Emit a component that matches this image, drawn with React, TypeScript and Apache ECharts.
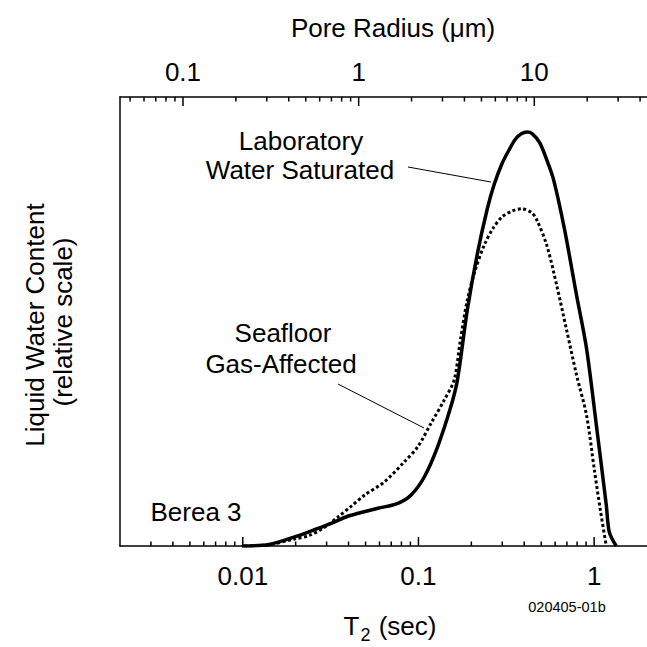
import React, { useEffect, useRef } from "react";
import * as echarts from "echarts";

// ---- data (T2 in seconds, liquid water content in relative units 0..100) ----
const solidT2 = [0.0099, 0.0141, 0.0199, 0.0253, 0.0319, 0.0399, 0.0454, 0.0589, 0.0764, 0.0908, 0.1081, 0.1285, 0.1528, 0.1667, 0.1898, 0.2162, 0.2462, 0.2697, 0.2992, 0.3321, 0.356, 0.385, 0.415, 0.445, 0.4906, 0.5375, 0.5886, 0.6795, 0.794, 0.9045, 1.03, 1.173, 1.22, 1.336];
const solidY = [0, 0.33, 2.07, 3.56, 5.06, 6.68, 7.28, 8.4, 9.5, 11.36, 15.43, 22.1, 31.0, 37.0, 52.6, 65.0, 75.0, 80.5, 85.2, 88.6, 90.6, 91.8, 92.2, 91.8, 89.8, 86.0, 81.5, 70.4, 55.9, 44.1, 26.9, 9.1, 3.1, 0];

const dottedT2 = [0.0102, 0.0141, 0.0199, 0.0237, 0.0288, 0.035, 0.0415, 0.0495, 0.0642, 0.0833, 0.0991, 0.1178, 0.1402, 0.1597, 0.1733, 0.1898, 0.2107, 0.2368, 0.2662, 0.2992, 0.3408, 0.3882, 0.442, 0.472, 0.5375, 0.612, 0.6974, 0.794, 0.9045, 1.0037, 1.085, 1.173];
const dottedY = [0, 0.3, 1.6, 2.3, 4.0, 6.53, 8.9, 11.36, 14.32, 18.8, 22.1, 27.3, 32.5, 37.0, 45.9, 54.8, 61.5, 67.0, 70.8, 73.3, 74.6, 75.1, 74.2, 72.6, 67.0, 58.1, 48.1, 38.1, 29.2, 16.9, 8.0, 0];

// bottom axis (T2, sec)
const t2Min = 0.002;
const t2Max = 2;
const bottomMajorTicks = [0.01, 0.1, 1];
const bottomMinorTicks = [0.003, 0.004, 0.005, 0.006, 0.007, 0.008, 0.009, 0.02, 0.03, 0.04, 0.05, 0.06, 0.07, 0.08, 0.09, 0.2, 0.3, 0.4, 0.5, 0.6, 0.7, 0.8, 0.9];
const bottomLabels = ["0.01", "0.1", "1"];

// top axis (pore radius, µm) = factor * T2
const radiusFactor = 21.9;
const topMajorTicks = [0.1, 1, 10];
const topMinorTicks = [0.05, 0.06, 0.07, 0.08, 0.09, 0.2, 0.3, 0.4, 0.5, 0.6, 0.7, 0.8, 0.9, 2, 3, 4, 5, 6, 7, 8, 9, 20, 30, 40];
const topLabels = ["0.1", "1", "10"];

const yMax = 100;
const FONT = "'Liberation Sans', Arial, Helvetica, sans-serif";
const FS = 26;

export default function App() {
  const ref = useRef<HTMLDivElement>(null);

  useEffect(() => {
    if (!ref.current) return;
    const chart = echarts.init(ref.current, undefined, { renderer: "svg" });

    const tickData = (major: number[], minor: number[]) => [
      ...major.map((v) => [v, 1]),
      ...minor.map((v) => [v, 0]),
    ];

    const tickSeries = (axisIndex: number, data: number[][], atTop: boolean) => ({
      type: "custom",
      xAxisIndex: axisIndex,
      yAxisIndex: 0,
      silent: true,
      clip: false,
      data,
      renderItem: (params: any, api: any) => {
        const v = api.value(0);
        const major = api.value(1);
        const p = api.coord([v, atTop ? yMax : 0]);
        const len = major ? 9 : 4.5;
        const dir = atTop ? 1 : -1;
        return {
          type: "line",
          shape: { x1: p[0], y1: p[1], x2: p[0], y2: p[1] + dir * len },
          style: { stroke: "#000", lineWidth: 1.5 },
        };
      },
    });

    const labelSeries = (axisIndex: number, values: number[], texts: string[], atTop: boolean) => ({
      type: "custom",
      xAxisIndex: axisIndex,
      yAxisIndex: 0,
      silent: true,
      clip: false,
      data: values.map((v) => [v, 0]),
      renderItem: (params: any, api: any) => {
        const v = api.value(0);
        const p = api.coord([v, atTop ? yMax : 0]);
        return {
          type: "text",
          x: p[0],
          y: atTop ? p[1] - 25 : p[1] + 30,
          style: {
            text: texts[params.dataIndex],
            fontSize: FS,
            fontFamily: FONT,
            fill: "#000",
            align: "center",
            verticalAlign: "middle",
          },
        };
      },
    });

    const txt = (text: string, x: number, y: number, size = FS, extra: any = {}) => ({
      type: "text",
      x,
      y,
      silent: true,
      style: {
        text,
        fontSize: size,
        fontFamily: FONT,
        fill: "#000",
        align: "center",
        verticalAlign: "middle",
        ...extra,
      },
    });

    chart.setOption({
      animation: false,
      backgroundColor: "#fff",
      grid: { left: 120, top: 97, width: 531, height: 449, containLabel: false },
      xAxis: [
        {
          type: "log",
          logBase: 10,
          min: t2Min,
          max: t2Max,
          position: "bottom",
          axisLine: { show: true, lineStyle: { color: "#000", width: 1.5 } },
          axisTick: { show: false },
          axisLabel: { show: false },
          splitLine: { show: false },
        },
        {
          type: "log",
          logBase: 10,
          min: t2Min * radiusFactor,
          max: t2Max * radiusFactor,
          position: "top",
          axisLine: { show: true, lineStyle: { color: "#000", width: 1.5 } },
          axisTick: { show: false },
          axisLabel: { show: false },
          splitLine: { show: false },
        },
      ],
      yAxis: {
        type: "value",
        min: 0,
        max: yMax,
        axisLine: { show: true, lineStyle: { color: "#000", width: 1.5 } },
        axisTick: { show: false },
        axisLabel: { show: false },
        splitLine: { show: false },
      },
      series: [
        {
          name: "Seafloor Gas-Affected",
          type: "line",
          xAxisIndex: 0,
          data: dottedT2.map((t, i) => [t, dottedY[i]]),
          showSymbol: false,
          smooth: 0.3,
          lineStyle: { color: "#000", width: 3, type: [3, 2.5] },
          z: 3,
        },
        {
          name: "Laboratory Water Saturated",
          type: "line",
          xAxisIndex: 0,
          data: solidT2.map((t, i) => [t, solidY[i]]),
          showSymbol: false,
          smooth: 0.3,
          lineStyle: { color: "#000", width: 3.5 },
          z: 2,
        },
        tickSeries(0, tickData(bottomMajorTicks, bottomMinorTicks), false),
        tickSeries(1, tickData(topMajorTicks, topMinorTicks), true),
        labelSeries(0, bottomMajorTicks, bottomLabels, false),
        labelSeries(1, topMajorTicks, topLabels, true),
      ],
      graphic: [
        txt("Pore Radius (μm)", 393, 28),
        { ...txt("Liquid Water Content", 35, 325), rotation: Math.PI / 2 },
        { ...txt("(relative scale)", 63, 322), rotation: Math.PI / 2 },
        txt("Laboratory", 301, 141),
        txt("Water Saturated", 300, 170),
        txt("Seafloor", 283, 333),
        txt("Gas-Affected", 281, 364),
        txt("Berea 3", 196, 512),
        txt("020405-01b", 567, 607, 14.5),
        {
          type: "line",
          silent: true,
          shape: { x1: 408, y1: 167, x2: 491, y2: 182 },
          style: { stroke: "#000", lineWidth: 1 },
        },
        {
          type: "line",
          silent: true,
          shape: { x1: 338, y1: 384, x2: 424, y2: 428 },
          style: { stroke: "#000", lineWidth: 1 },
        },
        {
          type: "text",
          x: 390,
          y: 628,
          silent: true,
          style: {
            text: "{a|T}{b|2}{a| (sec)}",
            fontFamily: FONT,
            fill: "#000",
            align: "center",
            verticalAlign: "middle",
            rich: {
              a: { fontSize: FS, fontFamily: FONT, verticalAlign: "top", lineHeight: 30 },
              b: { fontSize: 18, fontFamily: FONT, verticalAlign: "top", lineHeight: 21, padding: [13, 1, 0, 1] },
            },
          },
        },
      ],
    });

    return () => chart.dispose();
  }, []);

  return (
    <div
      ref={ref}
      style={{ position: "absolute", left: 0, top: 0, width: 647, height: 647, background: "#fff" }}
    />
  );
}
